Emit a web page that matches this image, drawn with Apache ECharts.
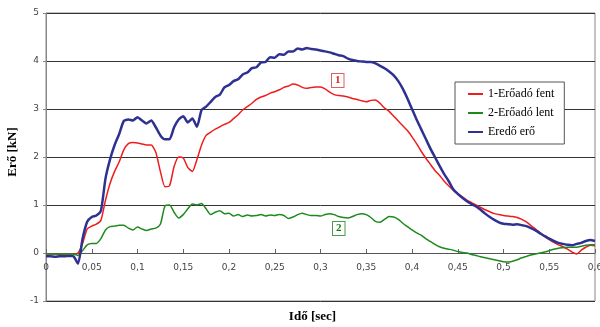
<!DOCTYPE html>
<html>
<head>
<meta charset="utf-8">
<script src="https://cdn.jsdelivr.net/npm/echarts@6/dist/echarts.min.js"></script>
<style>
html, body { margin: 0; padding: 0; background: #fff; }
#chart { width: 600px; height: 327px; }
</style>
</head>
<body>
<div id="chart"></div>
<script>
// mintavételezés: 0.005 s lépés, 0 .. 0.6 s
const dt = 0.005;

// 1-Erőadó fent (kN)
const fent = [
  -0.02, -0.02, -0.02, -0.03, -0.02, -0.02, -0.02, 0.0, 0.2, 0.5,
  0.56, 0.6, 0.68, 1.1, 1.45, 1.7, 1.9, 2.15, 2.28, 2.3,
  2.29, 2.27, 2.25, 2.25, 2.1, 1.7, 1.38, 1.4, 1.8, 2.0,
  1.98, 1.78, 1.7, 1.95, 2.25, 2.45, 2.52, 2.58, 2.63, 2.68,
  2.72, 2.8, 2.88, 2.98, 3.05, 3.12, 3.2, 3.25, 3.28, 3.33,
  3.36, 3.4, 3.45, 3.48, 3.52, 3.5, 3.45, 3.43, 3.45, 3.46,
  3.46, 3.42, 3.35, 3.3, 3.28, 3.27, 3.25, 3.22, 3.2, 3.17,
  3.15, 3.18, 3.19, 3.12, 3.02, 2.95, 2.85, 2.75, 2.65, 2.55,
  2.42, 2.28, 2.12, 1.98, 1.85, 1.72, 1.62, 1.5, 1.4, 1.31,
  1.24, 1.17, 1.1, 1.05, 1.0, 0.95, 0.9, 0.86, 0.82, 0.8,
  0.78, 0.77, 0.76, 0.74, 0.7, 0.65, 0.57, 0.5, 0.42, 0.35,
  0.28, 0.22, 0.17, 0.13, 0.08, 0.02, -0.02, 0.06, 0.12, 0.16,
  0.15
];

// 2-Erőadó lent (kN)
const lent = [
  -0.02, -0.02, -0.02, -0.02, -0.02, -0.02, -0.02, -0.05, 0.05, 0.17,
  0.2, 0.2, 0.3, 0.48, 0.55, 0.56, 0.58, 0.58, 0.52, 0.48,
  0.54, 0.5, 0.47, 0.5, 0.52, 0.6, 0.98, 1.0, 0.85, 0.73,
  0.8, 0.92, 1.02, 1.0, 1.03, 0.92, 0.8, 0.85, 0.88, 0.82,
  0.83, 0.77, 0.8, 0.76, 0.79, 0.77, 0.78, 0.8, 0.77, 0.79,
  0.78, 0.8, 0.78, 0.72, 0.75, 0.8, 0.83, 0.8, 0.78, 0.78,
  0.77, 0.8, 0.82, 0.8, 0.76, 0.74, 0.73, 0.76, 0.8, 0.82,
  0.8, 0.74, 0.66, 0.64, 0.7, 0.76, 0.75, 0.7, 0.62, 0.55,
  0.48, 0.42, 0.37, 0.3, 0.24, 0.18, 0.13, 0.1, 0.08, 0.06,
  0.03, 0.01, 0.0, -0.03, -0.05, -0.08, -0.1, -0.12, -0.14, -0.16,
  -0.18, -0.19, -0.17, -0.14, -0.1, -0.07, -0.04, -0.02, 0.0, 0.02,
  0.05, 0.08, 0.1, 0.11, 0.12, 0.12, 0.12, 0.14, 0.16, 0.17,
  0.17
];

// Eredő erő (kN)
const eredo = [
  -0.07, -0.07, -0.08, -0.07, -0.07, -0.06, -0.07, -0.22, 0.3, 0.65,
  0.75, 0.78, 0.88, 1.55, 1.95, 2.25, 2.48, 2.75, 2.78, 2.76,
  2.83, 2.76, 2.7, 2.76, 2.62, 2.45, 2.37, 2.37, 2.62, 2.78,
  2.85, 2.72, 2.8, 2.63, 2.98, 3.05, 3.15, 3.25, 3.3, 3.45,
  3.5, 3.58, 3.62, 3.72, 3.76, 3.85, 3.87, 3.97, 3.98, 4.08,
  4.07, 4.14, 4.13, 4.2, 4.2, 4.26, 4.24, 4.27, 4.25, 4.24,
  4.22, 4.2, 4.18, 4.15, 4.12, 4.1, 4.05, 4.02, 4.0, 3.99,
  3.98, 3.98, 3.95, 3.9, 3.85, 3.78, 3.7, 3.58, 3.42, 3.22,
  3.0, 2.78, 2.58, 2.38, 2.18, 2.0, 1.82, 1.65, 1.5, 1.33,
  1.23, 1.15, 1.08, 1.02, 0.97, 0.9, 0.82, 0.75, 0.69, 0.64,
  0.61, 0.6, 0.59, 0.6, 0.58, 0.56, 0.52, 0.47, 0.41, 0.35,
  0.3, 0.25, 0.21, 0.19, 0.17, 0.16, 0.19, 0.21, 0.25, 0.27,
  0.25
];

const names = ["1-Erőadó fent", "2-Erőadó lent", "Eredő erő"];

const pairs = (arr) => arr.map((v, i) => [+(i * dt).toFixed(3), v]);

const chart = echarts.init(document.getElementById("chart"));
const serif = '"Liberation Serif", "Times New Roman", serif';

chart.setOption({
  animation: false,
  backgroundColor: "#fff",
  grid: {
    left: 46,
    right: 5,
    top: 13,
    bottom: 26,
    show: true,
    borderColor: "#888",
    borderWidth: 1,
    containLabel: false,
    outerBoundsMode: "none",
  },
  xAxis: {
    type: "value",
    min: 0,
    max: 0.6,
    interval: 0.05,
    // az időtengely a 0 kN vonalon fut
    offset: -48,
    name: "Idő [sec]",
    nameLocation: "middle",
    nameGap: 57,
    nameTextStyle: {
      fontFamily: serif,
      fontWeight: "bold",
      fontSize: 13,
      color: "#000",
      padding: [0, 16, 0, 0],
    },
    axisLine: { onZero: false, lineStyle: { color: "#555" } },
    axisTick: { show: true, length: 4, inside: true, lineStyle: { color: "#666" } },
    axisLabel: {
      margin: 10,
      fontFamily: "DejaVu Sans",
      fontSize: 9,
      color: "#444",
      showMaxLabel: true,
      formatter: (v) => String(+v.toFixed(2)).replace(".", ","),
    },
    splitLine: { show: false },
  },
  yAxis: {
    type: "value",
    min: -1,
    max: 5,
    interval: 1,
    name: "Erő [kN]",
    nameLocation: "middle",
    nameGap: 14,
    nameTextStyle: {
      fontFamily: serif,
      fontWeight: "bold",
      fontSize: 13,
      color: "#000",
      padding: [0, 0, 0, 10],
    },
    axisLine: { show: true, lineStyle: { color: "#888" } },
    axisTick: { show: true, length: 3, lineStyle: { color: "#888" } },
    axisLabel: { margin: 7, fontFamily: "DejaVu Sans", fontSize: 9, color: "#444" },
    splitLine: { show: true, lineStyle: { color: "#333", width: 1 } },
  },
  legend: {
    data: names,
    orient: "vertical",
    left: 455,
    top: 82,
    icon: "rect",
    backgroundColor: "#fff",
    borderColor: "#555",
    borderWidth: 1,
    padding: [5, 10, 5, 13],
    itemGap: 5,
    itemWidth: 15,
    itemHeight: 2,
    textStyle: { fontFamily: serif, fontSize: 12, color: "#000", lineHeight: 14 },
  },
  graphic: [
    {
      type: "text",
      left: 331,
      top: 73,
      z: 100,
      style: {
        text: "1",
        fill: "#e02020",
        font: 'bold 11px "Liberation Serif"',
        backgroundColor: "#fff",
        borderColor: "#e06060",
        borderWidth: 1,
        padding: [1, 3, 1, 3],
      },
    },
    {
      type: "text",
      left: 332,
      top: 221,
      z: 100,
      style: {
        text: "2",
        fill: "#1a7a1a",
        font: 'bold 11px "Liberation Serif"',
        backgroundColor: "#fff",
        borderColor: "#4a9a4a",
        borderWidth: 1,
        padding: [1, 3, 1, 3],
      },
    },
  ],
  series: [
    {
      name: names[0],
      type: "line",
      data: pairs(fent),
      symbol: "none",
      smooth: 0.2,
      lineStyle: { color: "#ee1c1c", width: 1.5 },
      itemStyle: { color: "#ee1c1c" },
    },
    {
      name: names[1],
      type: "line",
      data: pairs(lent),
      symbol: "none",
      smooth: 0.2,
      lineStyle: { color: "#1e8a1e", width: 1.5 },
      itemStyle: { color: "#1e8a1e" },
    },
    {
      name: names[2],
      type: "line",
      data: pairs(eredo),
      symbol: "none",
      smooth: 0.2,
      lineStyle: { color: "#2e3192", width: 2.5 },
      itemStyle: { color: "#2e3192" },
    },
  ],
});
</script>
</body>
</html>
